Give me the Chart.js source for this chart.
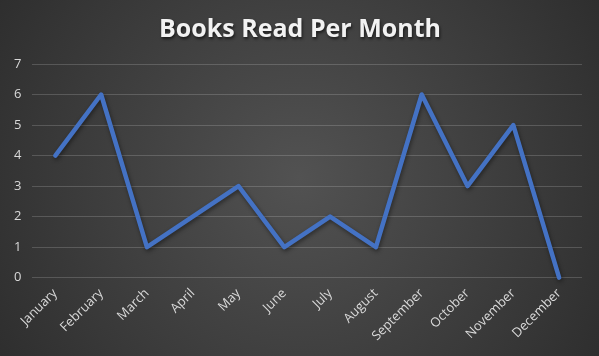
<!DOCTYPE html>
<html>
<head>
<meta charset="utf-8">
<script src="https://cdn.jsdelivr.net/npm/chart.js@4"></script>
<style>
  html, body { margin: 0; padding: 0; background: #333; }
  #wrap { width: 599px; height: 356px; position: relative; }
</style>
</head>
<body>
<div id="wrap"><canvas id="myChart"></canvas></div>
<script>
var chartTitle = 'Books Read Per Month';
var months = ['January', 'February', 'March', 'April', 'May', 'June', 'July',
  'August', 'September', 'October', 'November', 'December'];
var booksRead = [4, 6, 1, 2, 3, 1, 2, 1, 6, 3, 5, 0];

// dark radial background + title with shadow
var backdrop = {
  id: 'backdrop',
  beforeDraw: function(chart) {
    var ctx = chart.ctx;
    var w = chart.width, h = chart.height;
    ctx.save();
    var g = ctx.createRadialGradient(w / 2, h / 2, 0, w / 2, h / 2, w * 0.62);
    g.addColorStop(0, '#525252');
    g.addColorStop(1, '#2c2c2c');
    ctx.fillStyle = g;
    ctx.fillRect(0, 0, w, h);
    ctx.restore();
  },
  afterDraw: function(chart) {
    var ctx = chart.ctx;
    ctx.save();
    ctx.font = 'bold 25px "Open Sans", sans-serif';
    ctx.textAlign = 'center';
    ctx.textBaseline = 'alphabetic';
    ctx.shadowColor = 'rgba(0,0,0,0.6)';
    ctx.shadowOffsetX = 1;
    ctx.shadowOffsetY = 2;
    ctx.shadowBlur = 3;
    ctx.fillStyle = '#f2f2f2';
    ctx.fillText(chartTitle, chart.width / 2 + 0.5, 37);
    ctx.restore();
  }
};

var lineShadow = {
  id: 'lineShadow',
  beforeDatasetsDraw: function(chart) {
    var ctx = chart.ctx;
    ctx.save();
    ctx.shadowColor = 'rgba(0,0,0,0.45)';
    ctx.shadowOffsetX = 1;
    ctx.shadowOffsetY = 2;
    ctx.shadowBlur = 4;
  },
  afterDatasetsDraw: function(chart) {
    chart.ctx.restore();
  }
};

new Chart(document.getElementById('myChart'), {
  type: 'line',
  data: {
    labels: months,
    datasets: [{
      label: 'Books',
      data: booksRead,
      borderColor: '#4472C4',
      borderWidth: 4.5,
      borderCapStyle: 'round',
      borderJoinStyle: 'round',
      pointRadius: 0,
      tension: 0,
      clip: false
    }]
  },
  options: {
    responsive: true,
    maintainAspectRatio: false,
    animation: false,
    layout: { padding: { top: 64, left: 3, right: 17, bottom: 4 } },
    plugins: {
      legend: { display: false },
      title: { display: false },
      tooltip: { enabled: false }
    },
    scales: {
      x: {
        offset: true,
        grid: { display: false, drawTicks: false },
        border: { display: false },
        ticks: {
          color: '#d9d9d9',
          font: { family: '"Open Sans", sans-serif', size: 13 },
          minRotation: 45,
          maxRotation: 45,
          autoSkip: false,
          padding: 8
        }
      },
      y: {
        min: 0,
        max: 7,
        grid: { color: 'rgba(255,255,255,0.17)', drawTicks: false },
        border: { display: false },
        ticks: {
          stepSize: 1,
          color: '#d9d9d9',
          font: { family: '"Open Sans", sans-serif', size: 13 },
          padding: 11
        }
      }
    }
  },
  plugins: [backdrop, lineShadow]
});
</script>
</body>
</html>
